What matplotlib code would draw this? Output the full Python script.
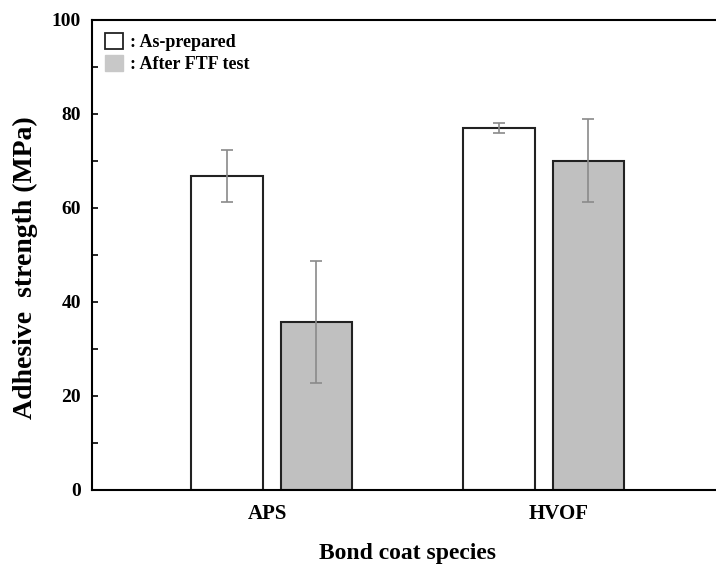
import numpy as np
import matplotlib.pyplot as plt
import matplotlib.patches as mpatches
from matplotlib.ticker import MultipleLocator

plt.rcParams.update({
    "font.family": "Liberation Serif",
    "font.weight": "bold",
})

# ── data ─────────────────────────────────────────────────────────────────────
categories = ["APS", "HVOF"]
as_prepared = [66.8, 77.0]
as_prepared_err = [5.5, 1.1]
after_ftf = [35.7, 70.1]
after_ftf_err = [13.0, 8.9]
series_labels = [": As-prepared", ": After FTF test"]

# ── plot ─────────────────────────────────────────────────────────────────────
fig = plt.figure(figsize=(7.16, 5.65), dpi=100)
ax = fig.add_axes([92 / 716, 75 / 565, 1 - 92 / 716 + 0.01, 470 / 565])

x = np.arange(len(categories))
w = 0.264
off = 0.165
err_kw = dict(ecolor="#8a8a8a", elinewidth=1.2, capsize=4, capthick=1.2)

ax.bar(x - off, as_prepared, w, yerr=as_prepared_err, color="white",
       edgecolor="#222222", linewidth=1.5, error_kw=err_kw, zorder=2)
ax.bar(x + off, after_ftf, w, yerr=after_ftf_err, color="#c0c0c0",
       edgecolor="#222222", linewidth=1.5, error_kw=err_kw, zorder=2)

ax.set_xlim(-0.66, 1.66)
ax.set_ylim(0, 100)
# labels sit slightly off the group centres in the original
ax.set_xticks(x + np.array([-0.015, 0.055]))
ax.set_xticklabels(categories, fontsize=15, fontweight="bold")
ax.tick_params(axis="x", length=0, pad=10)
ax.yaxis.set_major_locator(MultipleLocator(20))
ax.yaxis.set_minor_locator(MultipleLocator(10))
ax.tick_params(axis="y", which="both", direction="in", length=4, width=1.2,
               labelsize=14, pad=8)
for lab in ax.get_yticklabels():
    lab.set_fontweight("bold")

for s in ["left", "bottom", "top"]:
    ax.spines[s].set_linewidth(1.5)
ax.spines["right"].set_visible(False)

ax.set_ylabel("Adhesive  strength (MPa)", fontsize=20, fontweight="bold")
ax.yaxis.set_label_coords(-0.086, 0.474)
ax.set_xlabel("Bond coat species", fontsize=17, fontweight="bold", labelpad=14)

handles = [
    mpatches.Patch(facecolor="white", edgecolor="#222222", linewidth=1.3,
                   label=series_labels[0]),
    mpatches.Patch(facecolor="#c8c8c8", edgecolor="#c8c8c8",
                   label=series_labels[1]),
]
ax.legend(handles=handles, loc="upper left", frameon=False, fontsize=13,
          handlelength=1.0, handleheight=1.0, handletextpad=0.4,
          borderaxespad=0.3, labelspacing=0.2, bbox_to_anchor=(0.0, 1.0))

fig.savefig("out.png", dpi=100)
